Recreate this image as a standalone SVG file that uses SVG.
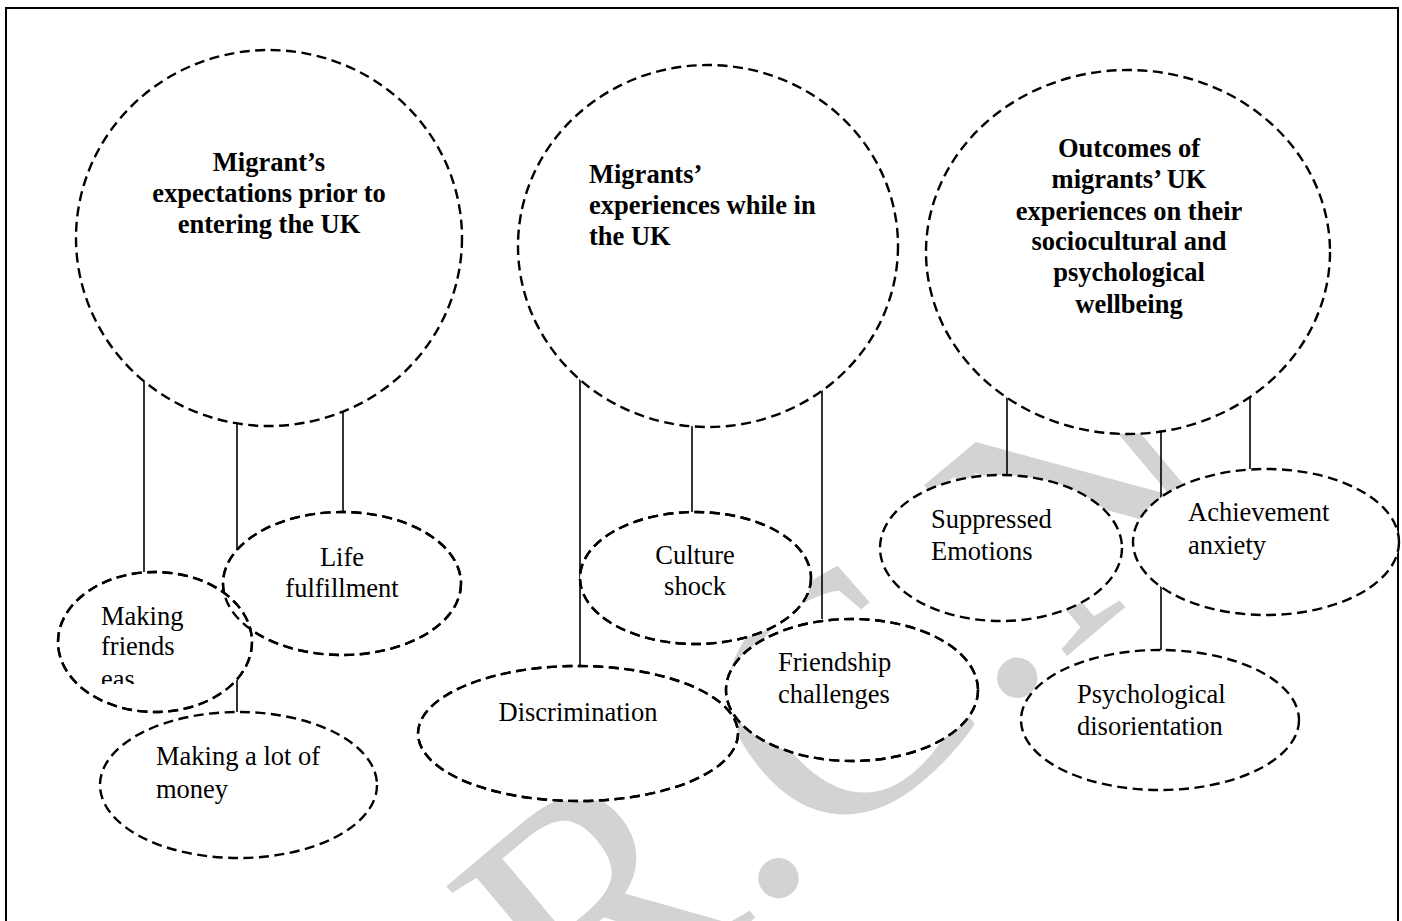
<svg xmlns="http://www.w3.org/2000/svg" width="1402" height="921" viewBox="0 0 1402 921">
  <style>
    .node { fill: #ffffff; stroke: #000000; stroke-width: 2.4; stroke-dasharray: 10 5.5; }
    .edge { fill: none; stroke: #000000; stroke-width: 2.4; stroke-dasharray: 10 5.5; }
    .link { stroke: #000000; stroke-width: 1.6; fill: none; }
    .hb { font-family: "Liberation Serif", "Times New Roman", serif; font-size: 26.5px; font-weight: bold; fill: #000000; }
    .tr { font-family: "Liberation Serif", "Times New Roman", serif; font-size: 26.5px; fill: #000000; }
    .mid { text-anchor: middle; }
    .wm { font-family: "Liberation Serif", "Times New Roman", serif; font-size: 340px; fill: #d3d3d3; }
  </style>
  <defs>
    <clipPath id="clipFriends">
      <rect x="60" y="590" width="200" height="94"/>
    </clipPath>
  </defs>

  <rect x="0" y="0" width="1402" height="921" fill="#ffffff"/>

  <g id="watermark">
    <text class="wm" transform="translate(582,1063) rotate(-40)">R.C.N</text>
  </g>

  <rect id="frame" x="6" y="8" width="1392" height="960" fill="none" stroke="#000000" stroke-width="2"/>

  <g id="connectors">
    <line class="link" x1="144" y1="370" x2="144" y2="572"/>
    <line class="link" x1="237" y1="410" x2="237" y2="712"/>
    <line class="link" x1="343" y1="395" x2="343" y2="512"/>
    <line class="link" x1="580" y1="360" x2="580" y2="666"/>
    <line class="link" x1="692" y1="410" x2="692" y2="512"/>
    <line class="link" x1="822" y1="370" x2="822" y2="619"/>
    <line class="link" x1="1007" y1="380" x2="1007" y2="475"/>
    <line class="link" x1="1161" y1="418" x2="1161" y2="650"/>
    <line class="link" x1="1250" y1="380" x2="1250" y2="469"/>
  </g>

  <g id="expectations">
    <ellipse class="node" cx="269" cy="238" rx="193" ry="188"/>
    <text class="hb mid" x="269" y="171">Migrant’s</text>
    <text class="hb mid" x="269" y="202">expectations prior to</text>
    <text class="hb mid" x="269" y="233">entering the UK</text>
  </g>

  <g id="experiences">
    <ellipse class="node" cx="708" cy="246" rx="190" ry="181"/>
    <text class="hb" x="589" y="183">Migrants’</text>
    <text class="hb" x="589" y="214">experiences while in</text>
    <text class="hb" x="589" y="245">the UK</text>
  </g>

  <g id="outcomes">
    <ellipse class="node" cx="1128" cy="252" rx="202" ry="182"/>
    <text class="hb mid" x="1129" y="157">Outcomes of</text>
    <text class="hb mid" x="1129" y="188">migrants’ UK</text>
    <text class="hb mid" x="1129" y="220">experiences on their</text>
    <text class="hb mid" x="1129" y="250">sociocultural and</text>
    <text class="hb mid" x="1129" y="281">psychological</text>
    <text class="hb mid" x="1129" y="313">wellbeing</text>
  </g>

  <g id="life-fulfillment">
    <ellipse class="node" cx="342" cy="583.5" rx="119" ry="71.5"/>
    <text class="tr mid" x="342" y="566">Life</text>
    <text class="tr mid" x="342" y="597">fulfillment</text>
  </g>

  <g id="making-friends">
    <ellipse class="node" cx="155" cy="642" rx="97" ry="70"/>
    <text class="tr" x="101" y="625">Making</text>
    <text class="tr" x="101" y="655">friends</text>
    <text class="tr" x="101" y="688" clip-path="url(#clipFriends)">eas</text>
  </g>

  <g id="making-money">
    <ellipse class="node" cx="238.5" cy="785" rx="138.5" ry="73"/>
    <text class="tr" x="156" y="765">Making a lot of</text>
    <text class="tr" x="156" y="798">money</text>
  </g>

  <g id="culture-shock">
    <ellipse class="node" cx="695.5" cy="578" rx="115.5" ry="66"/>
    <text class="tr mid" x="695" y="564">Culture</text>
    <text class="tr mid" x="695" y="595">shock</text>
  </g>

  <g id="discrimination">
    <ellipse class="node" cx="578" cy="733.5" rx="160" ry="67.5"/>
    <text class="tr mid" x="578" y="721">Discrimination</text>
  </g>

  <g id="friendship">
    <ellipse class="node" cx="852" cy="690" rx="126" ry="71"/>
    <text class="tr" x="778" y="671">Friendship</text>
    <text class="tr" x="778" y="703">challenges</text>
  </g>

  <g id="suppressed">
    <ellipse class="node" cx="1001" cy="548" rx="121" ry="73"/>
    <text class="tr" x="931" y="528">Suppressed</text>
    <text class="tr" x="931" y="560">Emotions</text>
  </g>

  <g id="achievement">
    <ellipse class="node" cx="1266" cy="542" rx="133" ry="73"/>
    <text class="tr" x="1188" y="521">Achievement</text>
    <text class="tr" x="1188" y="554">anxiety</text>
  </g>

  <g id="psychological">
    <ellipse class="node" cx="1160" cy="720" rx="139" ry="70"/>
    <text class="tr" x="1077" y="703">Psychological</text>
    <text class="tr" x="1077" y="735">disorientation</text>
  </g>

  <g id="overlap-edges">
    <ellipse class="edge" cx="155" cy="642" rx="97" ry="70"/>
    <ellipse class="edge" cx="342" cy="583.5" rx="119" ry="71.5"/>
    <ellipse class="edge" cx="695.5" cy="578" rx="115.5" ry="66"/>
    <ellipse class="edge" cx="578" cy="733.5" rx="160" ry="67.5"/>
    <ellipse class="edge" cx="852" cy="690" rx="126" ry="71"/>
  </g>
</svg>
